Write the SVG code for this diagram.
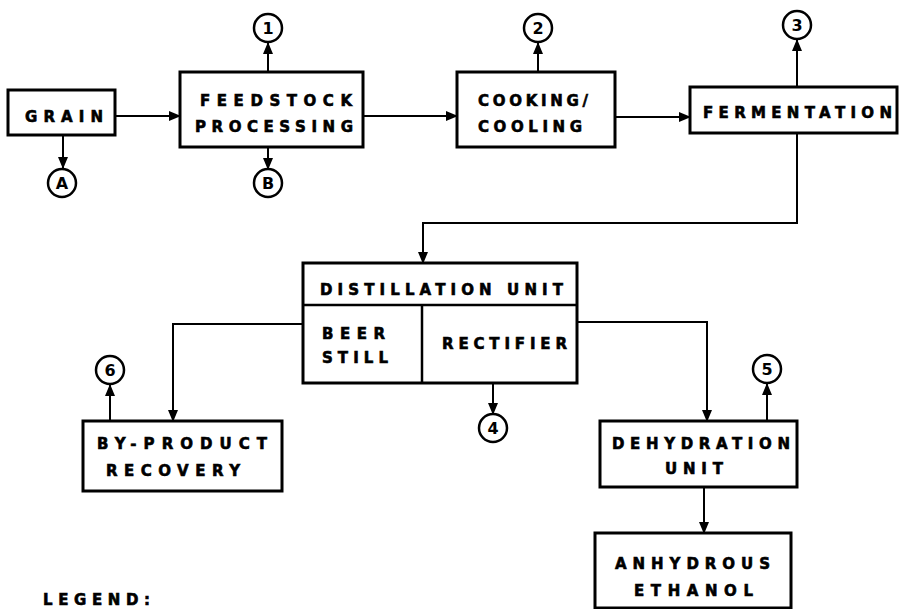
<svg xmlns="http://www.w3.org/2000/svg" width="917" height="609" viewBox="0 0 917 609">
<defs>
<marker id="ah" markerWidth="12" markerHeight="10" refX="11" refY="5" orient="auto" markerUnits="userSpaceOnUse">
<path d="M0,0 L12,5 L0,10 Z" fill="#000"/>
</marker>
</defs>
<style>
.box{fill:#fff;stroke:#000;stroke-width:3}
.div{fill:none;stroke:#000;stroke-width:2.5}
.t{font-family:"DejaVu Sans","Liberation Sans",sans-serif;font-weight:bold;font-size:15px;fill:#000;stroke:#000;stroke-width:0.6}
.c{fill:#fff;stroke:#000;stroke-width:2.5}
.n{font-family:"DejaVu Sans","Liberation Sans",sans-serif;font-weight:bold;font-size:16px;fill:#000;text-anchor:middle}
.ln{fill:none;stroke:#000;stroke-width:2}
</style>
<rect width="917" height="609" fill="#fff"/>
<g id="connectors">
<line class="ln" x1="115" y1="116" x2="180" y2="116" marker-end="url(#ah)"/>
<line class="ln" x1="63" y1="135" x2="63" y2="168" marker-end="url(#ah)"/>
<line class="ln" x1="268" y1="72" x2="268" y2="43" marker-end="url(#ah)"/>
<line class="ln" x1="268" y1="147" x2="268" y2="169" marker-end="url(#ah)"/>
<line class="ln" x1="363" y1="116" x2="457" y2="116" marker-end="url(#ah)"/>
<line class="ln" x1="538" y1="72" x2="538" y2="43" marker-end="url(#ah)"/>
<line class="ln" x1="615" y1="117" x2="690" y2="117" marker-end="url(#ah)"/>
<line class="ln" x1="797" y1="87" x2="797" y2="40" marker-end="url(#ah)"/>
<polyline class="ln" points="797,133 797,223 423,223 423,263" marker-end="url(#ah)"/>
<polyline class="ln" points="303,324 173,324 173,421" marker-end="url(#ah)"/>
<line class="ln" x1="110" y1="421" x2="110" y2="385" marker-end="url(#ah)"/>
<line class="ln" x1="493" y1="383" x2="493" y2="414" marker-end="url(#ah)"/>
<polyline class="ln" points="577,322 707,322 707,421" marker-end="url(#ah)"/>
<line class="ln" x1="767" y1="421" x2="767" y2="384" marker-end="url(#ah)"/>
<line class="ln" x1="704" y1="487" x2="704" y2="533" marker-end="url(#ah)"/>
</g>
<g id="grain">
<rect class="box" x="8" y="90" width="107" height="45"/>
<text class="t" x="25" y="122" textLength="78" lengthAdjust="spacing">GRAIN</text>
</g>
<g id="feedstock">
<rect class="box" x="180" y="72" width="183" height="75"/>
<text class="t" x="200" y="106" textLength="152" lengthAdjust="spacing">FEEDSTOCK</text>
<text class="t" x="195" y="132" textLength="158" lengthAdjust="spacing">PROCESSING</text>
</g>
<g id="cooking">
<rect class="box" x="457" y="72" width="158" height="75"/>
<text class="t" x="478" y="106" textLength="110" lengthAdjust="spacing">COOKING/</text>
<text class="t" x="478" y="132" textLength="104" lengthAdjust="spacing">COOLING</text>
</g>
<g id="fermentation">
<rect class="box" x="690" y="87" width="207" height="46"/>
<text class="t" x="703" y="118" textLength="189" lengthAdjust="spacing">FERMENTATION</text>
</g>
<g id="distillation">
<rect class="box" x="303" y="263" width="274" height="120"/>
<line class="div" x1="303" y1="305" x2="577" y2="305"/>
<line class="div" x1="422" y1="305" x2="422" y2="383"/>
<text class="t" x="320" y="295" textLength="243" lengthAdjust="spacing">DISTILLATION UNIT</text>
<text class="t" x="322" y="339" textLength="63" lengthAdjust="spacing">BEER</text>
<text class="t" x="322" y="363" textLength="66" lengthAdjust="spacing">STILL</text>
<text class="t" x="442" y="349" textLength="125" lengthAdjust="spacing">RECTIFIER</text>
</g>
<g id="byproduct">
<rect class="box" x="83" y="421" width="199" height="70"/>
<text class="t" x="97" y="449" textLength="170" lengthAdjust="spacing">BY-PRODUCT</text>
<text class="t" x="106" y="476" textLength="134" lengthAdjust="spacing">RECOVERY</text>
</g>
<g id="dehydration">
<rect class="box" x="600" y="421" width="197" height="66"/>
<text class="t" x="612" y="449" textLength="178" lengthAdjust="spacing">DEHYDRATION</text>
<text class="t" x="665" y="474" textLength="58" lengthAdjust="spacing">UNIT</text>
</g>
<g id="anhydrous">
<rect class="box" x="595" y="533" width="196" height="75"/>
<text class="t" x="615" y="569" textLength="155" lengthAdjust="spacing">ANHYDROUS</text>
<text class="t" x="634" y="596" textLength="119" lengthAdjust="spacing">ETHANOL</text>
</g>
<g id="c1"><circle class="c" cx="268" cy="28" r="14"/><text class="n" x="268" y="34">1</text></g>
<g id="c2"><circle class="c" cx="538" cy="28" r="14"/><text class="n" x="538" y="34">2</text></g>
<g id="c3"><circle class="c" cx="797" cy="25" r="14"/><text class="n" x="797" y="31">3</text></g>
<g id="c4"><circle class="c" cx="493" cy="428" r="14"/><text class="n" x="493" y="434">4</text></g>
<g id="c5"><circle class="c" cx="767" cy="369" r="14"/><text class="n" x="767" y="375">5</text></g>
<g id="c6"><circle class="c" cx="110" cy="370" r="14"/><text class="n" x="110" y="376">6</text></g>
<g id="cA"><circle class="c" cx="62" cy="183" r="14"/><text class="n" x="62" y="189">A</text></g>
<g id="cB"><circle class="c" cx="268" cy="183" r="14"/><text class="n" x="268" y="189">B</text></g>
<g id="legend">
<text class="t" x="43" y="605" textLength="107" lengthAdjust="spacing">LEGEND:</text>
</g>
</svg>
